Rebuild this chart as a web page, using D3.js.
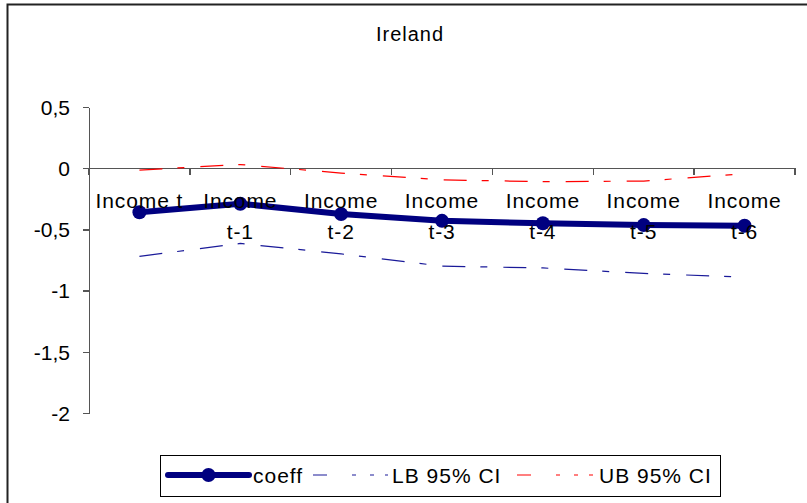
<!DOCTYPE html>
<html lang="en">

<head>
    <meta charset="utf-8">
    <!-- Load d3.js -->
    <script src="https://d3js.org/d3.v7.min.js"></script>
    <style>
        body {
            margin: 0;
            background: white;
        }

        text {
            font-family: "Liberation Sans", Arial, sans-serif;
            fill: black;
        }

        .axis path,
        .axis line {
            stroke: #555;
            stroke-width: 1.3px;
            shape-rendering: crispEdges;
        }
    </style>
</head>

<body>
    <div id="my_dataviz"></div>

    <script>
        // data
        const categories = ["Income t", "Income t-1", "Income t-2", "Income t-3", "Income t-4", "Income t-5", "Income t-6"];
        const tickLines = [["Income t"], ["Income", "t-1"], ["Income", "t-2"], ["Income", "t-3"], ["Income", "t-4"], ["Income", "t-5"], ["Income", "t-6"]];
        const coeff = [-0.36, -0.29, -0.375, -0.43, -0.45, -0.465, -0.47];
        const lb95 = [-0.72, -0.615, -0.70, -0.80, -0.815, -0.86, -0.89];
        const ub95 = [-0.015, 0.03, -0.04, -0.095, -0.11, -0.105, -0.045];
        const yTicks = [0.5, 0, -0.5, -1, -1.5, -2];

        const W = 807, H = 503;
        const margin = { top: 107, right: 12, bottom: 90, left: 89 };
        const width = W - margin.left - margin.right,
            height = H - margin.top - margin.bottom;

        const svg0 = d3.select("#my_dataviz")
            .append("svg")
            .attr("width", W)
            .attr("height", H);

        // chart frame (right and bottom edges fall outside the picture)
        svg0.append("rect")
            .attr("x", 7.5)
            .attr("y", 4.5)
            .attr("width", W + 10)
            .attr("height", H + 10)
            .attr("fill", "white")
            .attr("stroke", "#222")
            .attr("stroke-width", 2);

        svg0.append("text")
            .attr("x", 410)
            .attr("y", 41)
            .attr("text-anchor", "middle")
            .style("font-size", "20px")
            .style("letter-spacing", "1px")
            .text("Ireland");

        const svg = svg0.append("g")
            .attr("transform", `translate(${margin.left},${margin.top})`);

        const x = d3.scaleBand()
            .domain(categories)
            .range([0, width]);

        const y = d3.scaleLinear()
            .domain([-2, 0.5])
            .range([height, 0]);

        const cx = d => x(d) + x.bandwidth() / 2;

        // Y axis
        const yAxis = svg.append("g")
            .attr("class", "axis")
            .call(d3.axisLeft(y).tickValues(yTicks).tickSize(6).tickSizeOuter(0)
                .tickFormat(d => String(d).replace(".", ",")));
        yAxis.selectAll("text")
            .attr("x", -19)
            .attr("dy", "0.35em")
            .style("font-size", "21px");

        // X axis on the zero line, ticks between categories
        const xAxis = svg.append("g")
            .attr("class", "axis")
            .attr("transform", `translate(0,${y(0)})`);
        xAxis.append("line")
            .attr("x1", 0).attr("x2", width)
            .attr("y1", 0).attr("y2", 0);
        xAxis.selectAll(".tk")
            .data(d3.range(categories.length + 1))
            .join("line")
            .attr("class", "tk")
            .attr("x1", i => i * x.step())
            .attr("x2", i => i * x.step())
            .attr("y1", 0).attr("y2", 7);

        // confidence bounds
        const line = d3.line()
            .x((d, i) => cx(categories[i]))
            .y(d => y(d));

        svg.append("path")
            .datum(lb95)
            .attr("fill", "none")
            .attr("stroke", "#1a1a99")
            .attr("stroke-width", 1.2)
            .attr("stroke-dasharray", "23,15,7,16")
            .attr("d", line);

        svg.append("path")
            .datum(ub95)
            .attr("fill", "none")
            .attr("stroke", "#ff0000")
            .attr("stroke-width", 1.2)
            .attr("stroke-dasharray", "23,15,7,16")
            .attr("d", line);

        // coefficient line with markers
        svg.append("path")
            .datum(coeff)
            .attr("fill", "none")
            .attr("stroke", "#000080")
            .attr("stroke-width", 6)
            .attr("stroke-linejoin", "round")
            .attr("d", line);

        svg.selectAll(".dot")
            .data(coeff)
            .join("circle")
            .attr("class", "dot")
            .attr("cx", (d, i) => cx(categories[i]))
            .attr("cy", d => y(d))
            .attr("r", 7)
            .attr("fill", "#000080");

        // category labels, drawn over the series
        const labels = svg.append("g")
            .selectAll("text")
            .data(categories)
            .join("text")
            .attr("text-anchor", "middle")
            .style("font-size", "21px")
            .style("letter-spacing", "0.9px");
        labels.each(function (d, i) {
            d3.select(this).selectAll("tspan")
                .data(tickLines[i])
                .join("tspan")
                .attr("x", cx(d))
                .attr("y", (t, j) => y(0) + 40 + j * 31)
                .text(t => t);
        });

        // legend
        const legend = svg0.append("g");
        legend.append("rect")
            .attr("x", 160.5).attr("y", 455.5)
            .attr("width", 560).attr("height", 41)
            .attr("fill", "white")
            .attr("stroke", "black")
            .attr("stroke-width", 1);

        const legendItems = [
            { name: "coeff", color: "#000080", w: 6, dash: null, x0: 168, x1: 249, tx: 253 },
            { name: "LB 95% CI", color: "#1a1a99", w: 1.2, dash: "14,25,4,14,4,11,14", x0: 313, x1: 388, tx: 392 },
            { name: "UB 95% CI", color: "#ff0000", w: 1.2, dash: "14,25,4,14,4,11,14", x0: 517, x1: 593, tx: 599 }
        ];
        const ly = 475;
        legendItems.forEach(it => {
            legend.append("line")
                .attr("x1", it.x0).attr("x2", it.x1)
                .attr("y1", ly).attr("y2", ly)
                .attr("stroke", it.color)
                .attr("stroke-width", it.w)
                .attr("stroke-linecap", it.dash ? "butt" : "round")
                .attr("stroke-dasharray", it.dash);
            if (!it.dash) {
                legend.append("circle")
                    .attr("cx", (it.x0 + it.x1) / 2)
                    .attr("cy", ly)
                    .attr("r", 7)
                    .attr("fill", it.color);
            }
            legend.append("text")
                .attr("x", it.tx)
                .attr("y", ly + 8)
                .style("font-size", "21px")
                .style("letter-spacing", "1px")
                .text(it.name);
        });
    </script>

</body>

</html>
